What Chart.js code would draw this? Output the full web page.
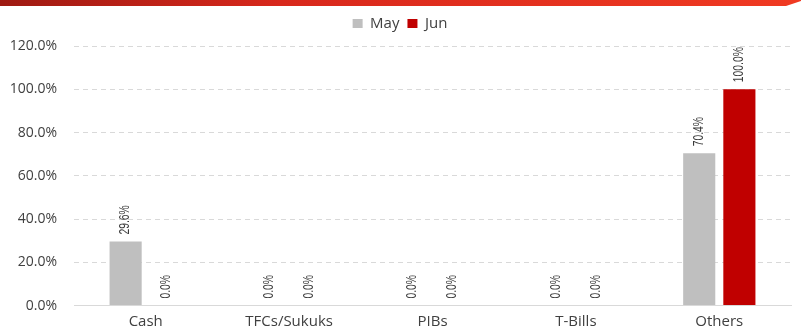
<!DOCTYPE html>
<html>
<head>
<meta charset="utf-8">
<script src="https://cdn.jsdelivr.net/npm/chart.js@4/dist/chart.umd.min.js"></script>
<style>
html,body{margin:0;padding:0;background:#fff;}
#wrap{position:relative;width:801px;height:331px;}
</style>
</head>
<body>
<div id="wrap"><canvas id="c" width="801" height="331"></canvas></div>
<script>
const categories = ["Cash", "TFCs/Sukuks", "PIBs", "T-Bills", "Others"];
const seriesNames = ["May", "Jun"];
const mayValues = [29.6, 0.0, 0.0, 0.0, 70.4];
const junValues = [0.0, 0.0, 0.0, 0.0, 100.0];
const yTicks = [0, 20, 40, 60, 80, 100, 120];
const colors = ["#bfbfbf", "#c00000"];

const bannerPlugin = {
  id: 'banner',
  beforeInit(chart) {
    const lg = chart.legend;
    if (lg) {
      const orig = lg.fit;
      lg.fit = function () { orig.call(this); this.height += 5; };
    }
  },
  beforeDraw(chart) {
    const ctx = chart.ctx;
    ctx.save();
    const g = ctx.createLinearGradient(0, 0, 801, 0);
    g.addColorStop(0, '#9e1a12');
    g.addColorStop(0.35, '#d8281c');
    g.addColorStop(1, '#f03a22');
    ctx.fillStyle = g;
    ctx.beginPath();
    ctx.moveTo(0, 0);
    ctx.lineTo(801, 0);
    ctx.lineTo(801, 1);
    ctx.lineTo(786, 6);
    ctx.lineTo(0, 6);
    ctx.closePath();
    ctx.fill();
    ctx.restore();
  }
};

const labelPlugin = {
  id: 'vlabels',
  afterDatasetsDraw(chart) {
    const ctx = chart.ctx;
    ctx.save();
    ctx.font = '14px "Liberation Sans", Arial, sans-serif';
    ctx.fillStyle = '#3a3a3a';
    chart.data.datasets.forEach((ds, i) => {
      const meta = chart.getDatasetMeta(i);
      meta.data.forEach((bar, j) => {
        const v = ds.data[j];
        ctx.save();
        ctx.translate(bar.x, bar.y - 7);
        ctx.rotate(-Math.PI / 2);
        ctx.scale(0.74, 1);
        ctx.textAlign = 'left';
        ctx.textBaseline = 'middle';
        ctx.fillText(v.toFixed(1) + '%', 0, 0);
        ctx.restore();
      });
    });
    ctx.restore();
  }
};

new Chart(document.getElementById('c'), {
  type: 'bar',
  data: {
    labels: categories,
    datasets: [
      { label: seriesNames[0], data: mayValues, backgroundColor: colors[0] },
      { label: seriesNames[1], data: junValues, backgroundColor: colors[1] }
    ]
  },
  options: {
    responsive: false,
    devicePixelRatio: 1,
    animation: false,
    layout: { padding: { top: 8, left: 9, right: 10, bottom: 0 } },
    datasets: { bar: { categoryPercentage: 0.56, barPercentage: 0.8 } },
    plugins: {
      legend: {
        display: true,
        position: 'top',
        labels: {
          boxWidth: 10, boxHeight: 9, padding: 8,
          color: '#404040',
          font: { family: '"Open Sans", sans-serif', size: 15 }
        }
      },
      tooltip: { enabled: false }
    },
    scales: {
      x: {
        grid: { display: false, drawTicks: false, tickLength: 0 },
        border: { display: true, color: '#d9d9d9', width: 1 },
        ticks: { color: '#404040', padding: 7, font: { family: '"Open Sans", sans-serif', size: 15 } },
        afterFit(axis) { axis.height = 25; }
      },
      y: {
        min: 0, max: 120,
        afterBuildTicks(axis) { axis.ticks = yTicks.map(v => ({ value: v })); },
        afterFit(axis) { axis.width = 65; },
        grid: { color: '#d9d9d9', drawTicks: false, lineWidth: 1 },
        border: { display: false, dash: [5, 4] },
        ticks: {
          color: '#404040', padding: 17,
          font: { family: '"Open Sans", sans-serif', size: 14 },
          callback: v => v.toFixed(1) + '%'
        }
      }
    }
  },
  plugins: [bannerPlugin, labelPlugin]
});
</script>
</body>
</html>
